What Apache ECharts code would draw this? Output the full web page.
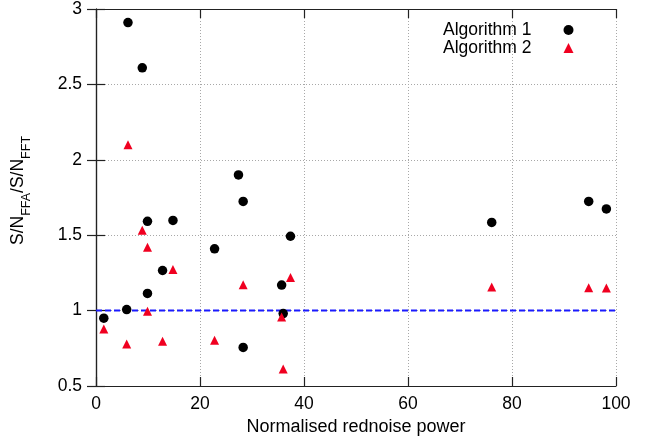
<!DOCTYPE html>
<html>
<head>
<meta charset="utf-8">
<script src="https://cdn.jsdelivr.net/npm/echarts@6/dist/echarts.min.js"></script>
<style>html,body{margin:0;padding:0;background:#fff}#c{width:660px;height:445px}</style>
</head>
<body>
<div id="c"></div>
<script>
// Algorithm 1 (black circles)
var alg1X = [1.5, 5.9, 6.15, 8.9, 9.9, 9.9, 12.8, 14.8, 22.8, 27.4, 28.3, 28.3, 35.7, 36.0, 37.4, 76.1, 94.75, 98.15];
var alg1Y = [0.95, 1.007, 2.91, 2.61, 1.592, 1.114, 1.266, 1.598, 1.41, 1.90, 1.724, 0.756, 1.169, 0.98, 1.493, 1.585, 1.724, 1.674];
// Algorithm 2 (red triangles)
var alg2X = [1.5, 5.9, 6.15, 8.9, 9.9, 9.9, 12.8, 14.8, 22.8, 28.3, 35.7, 36.0, 37.4, 76.1, 94.75, 98.15];
var alg2Y = [0.878, 0.779, 2.10, 1.532, 1.42, 0.995, 0.797, 1.273, 0.804, 1.172, 0.958, 0.612, 1.22, 1.156, 1.152, 1.15];
// reference line y = 1
var refX = [0, 100];
var refY = [1, 1];

function pairs(xs, ys) { return xs.map(function (x, i) { return [x, ys[i]]; }); }

var FONT = 'Liberation Sans';
var chart = echarts.init(document.getElementById('c'), null, {renderer: 'canvas'});
var axisLineStyle = {lineStyle: {color: '#222', width: 1.2}};
var gridLine = {show: true, lineStyle: {color: '#a8a8a8', width: 1, type: [1, 2]}};
chart.setOption({
  animation: false,
  backgroundColor: '#fff',
  textStyle: {fontFamily: FONT},
  grid: {left: 96, right: 44, top: 7.5, bottom: 59},
  legend: {
    orient: 'vertical', align: 'right', left: 438, top: 16,
    itemWidth: 10, itemHeight: 10, itemGap: 0,
    data: ['Algorithm 1', 'Algorithm 2'],
    textStyle: {fontFamily: FONT, fontSize: 17.5, color: '#000', lineHeight: 17, padding: [0, 27, 0, 0]}
  },
  xAxis: [{
    type: 'value', min: 0, max: 100, interval: 20, position: 'bottom',
    name: 'Normalised rednoise power', nameLocation: 'middle', nameGap: 27,
    nameTextStyle: {fontFamily: FONT, fontSize: 18, color: '#000'},
    axisLine: axisLineStyle,
    axisTick: {show: true, inside: true, length: 9, lineStyle: {color: '#222', width: 1.2}},
    axisLabel: {fontFamily: FONT, fontSize: 17.5, color: '#000', margin: 9},
    splitLine: gridLine
  }, {
    type: 'value', min: 0, max: 100, interval: 20, position: 'top',
    axisLine: axisLineStyle,
    axisTick: {show: true, inside: true, length: 9, lineStyle: {color: '#222', width: 1.2}},
    axisLabel: {show: false}, splitLine: {show: false}
  }],
  yAxis: [{
    type: 'value', min: 0.5, max: 3, interval: 0.5, position: 'left',
    name: '{m|S/N}{s|FFA}{m|/S/N}{s|FFT}', nameLocation: 'middle', nameRotate: 90, nameGap: 63,
    nameTextStyle: {
      fontFamily: FONT, color: '#000', padding: [0, 0, 0, 14],
      rich: {
        m: {fontFamily: FONT, fontSize: 17.5, color: '#000', lineHeight: 24, verticalAlign: 'top'},
        s: {fontFamily: FONT, fontSize: 12.5, color: '#000', lineHeight: 14, verticalAlign: 'bottom'}
      }
    },
    axisLine: axisLineStyle,
    axisTick: {show: true, inside: true, length: 9, lineStyle: {color: '#222', width: 1.2}},
    axisLabel: {fontFamily: FONT, fontSize: 17.5, color: '#000', margin: 14},
    splitLine: gridLine
  }, {
    type: 'value', min: 0.5, max: 3, interval: 0.5, position: 'right',
    axisLine: axisLineStyle,
    axisTick: {show: true, inside: true, length: 9, lineStyle: {color: '#222', width: 1.2}},
    axisLabel: {show: false}, splitLine: {show: false}
  }],
  series: [{
    name: 'ref', type: 'line', data: pairs(refX, refY), symbol: 'none', silent: true,
    lineStyle: {color: '#1a1aff', width: 2, type: [6, 3]}, z: 1
  }, {
    name: 'Algorithm 1', type: 'scatter', data: pairs(alg1X, alg1Y),
    symbol: 'circle', symbolSize: 9.5, itemStyle: {color: '#000', opacity: 1}, z: 3
  }, {
    name: 'Algorithm 2', type: 'scatter', data: pairs(alg2X, alg2Y),
    symbol: 'triangle', symbolSize: 9, itemStyle: {color: '#f00020', opacity: 1}, z: 3
  }]
});
</script>
</body>
</html>
